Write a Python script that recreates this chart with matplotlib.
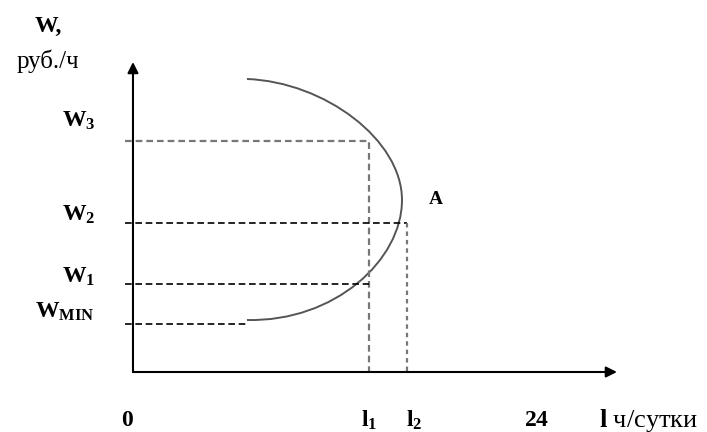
import matplotlib
matplotlib.use("Agg")
import matplotlib.pyplot as plt
from matplotlib.path import Path
from matplotlib.patches import PathPatch

plt.rcParams['font.family'] = ['Liberation Serif', 'DejaVu Serif']
plt.rcParams['mathtext.fontset'] = 'custom'
plt.rcParams['mathtext.rm'] = 'Liberation Serif'
plt.rcParams['mathtext.bf'] = 'Liberation Serif:bold'

# уровни затрат (условные единицы по оси W)
w_min = 4.8
w1 = 8.8
w2 = 14.9
w3 = 23.1
# продолжительность работы, ч/сутки
l1 = 14.0
l2 = 16.3
l_day = 24

# кривая W(l): опорные точки двух кривых Безье
curve_l = [6.77, 11.41, 15.98, 15.98, 15.98, 11.99, 6.77]
curve_w = [29.3, 29.0, 23.2, 17.2, 11.2, 5.0, 5.2]

fig = plt.figure(figsize=(7.07, 4.32), dpi=100)
ax = fig.add_axes([0, 0, 1, 1])
ax.set_xlim(-7.90, 34.10)
ax.set_ylim(-6.0, 37.2)
ax.axis('off')

# оси со стрелками
arr = dict(arrowstyle='-|>', color='black', lw=1.5, mutation_scale=16,
           shrinkA=0, shrinkB=0)
ax.annotate('', xy=(0, 31.0), xytext=(0, 0), arrowprops=arr)
ax.annotate('', xy=(28.75, 0), xytext=(0, 0), arrowprops=arr)

x0 = -0.48
gray = '#777777'
# пунктир
ax.plot([x0, l1, l1], [w3, w3, 0], color=gray, lw=1.6, ls=(0, (3, 1.8)))
ax.plot([x0, l2], [w2, w2], color='black', lw=1.2, ls=(0, (4, 2.2)))
ax.plot([l2, l2], [w2, 0], color=gray, lw=1.6, ls=(0, (2, 1.8)))
ax.plot([x0, l1], [w1, w1], color='black', lw=1.2, ls=(0, (4, 2.2)))
ax.plot([x0, curve_l[-1]], [w_min, w_min], color='black', lw=1.2,
        ls=(0, (4, 2.2)))

codes = [Path.MOVETO] + [Path.CURVE4] * 6
path = Path(list(zip(curve_l, curve_w)), codes)
ax.add_patch(PathPatch(path, facecolor='none', edgecolor='#555555', lw=1.4))

fs = 17
lx = -2.25
ax.text(lx, w3 + 2.0, r'$\mathbf{W_3}$', ha='right', va='center', fontsize=fs)
ax.text(lx, w2 + 0.8, r'$\mathbf{W_2}$', ha='right', va='center', fontsize=fs)
ax.text(lx, w1 + 0.7, r'$\mathbf{W_1}$', ha='right', va='center', fontsize=fs)
ax.text(lx, w_min + 1.2, r'$\mathbf{W_{MIN}}$', ha='right', va='center',
        fontsize=fs)
ax.text(-5.05, 34.6, 'W,', ha='center', va='center', fontsize=fs,
        fontweight='bold')
ax.text(-5.05, 31.1, 'руб./ч', ha='center', va='center', fontsize=fs + 1)

ax.text(18.0, 17.2, 'A', ha='center', va='center', fontsize=fs - 3,
        fontweight='bold')

yb = -4.8
ax.text(-0.3, yb, r'$\mathbf{0}$', ha='center', va='center', fontsize=fs)
ax.text(l1, yb, r'$\mathbf{l_1}$', ha='center', va='center', fontsize=fs)
ax.text(l2 + 0.4, yb, r'$\mathbf{l_2}$', ha='center', va='center', fontsize=fs)
ax.text(l_day, yb, r'$\mathbf{24}$', ha='center', va='center', fontsize=fs)
ax.text(27.7, yb, r'$\mathbf{l}$ ч/сутки', ha='left', va='center',
        fontsize=fs + 2)

fig.savefig('out.png', dpi=100)
